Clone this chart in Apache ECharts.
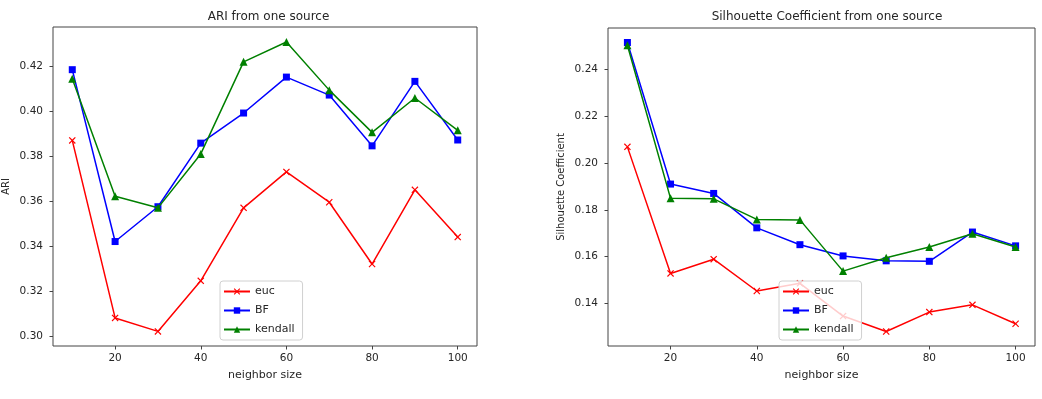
<!DOCTYPE html>
<html>
<head>
<meta charset="utf-8">
<script src="https://cdn.jsdelivr.net/npm/echarts@6/dist/echarts.min.js"></script>
<style>
html,body{margin:0;padding:0;background:#fff;}
#c{width:1042px;height:399px;}
</style>
</head>
<body>
<div id="c"></div>
<script>
// ---- data ----
const neighborSizes = [10, 20, 30, 40, 50, 60, 70, 80, 90, 100];
const seriesNames = ['euc', 'BF', 'kendall'];

const ariEuc     = [0.387, 0.308, 0.302, 0.3245, 0.357, 0.373, 0.3595, 0.332, 0.365, 0.344];
const ariBF      = [0.4185, 0.342, 0.3575, 0.3858, 0.3992, 0.4152, 0.4072, 0.3846, 0.4133, 0.3872];
const ariKendall = [0.4145, 0.3622, 0.357, 0.381, 0.422, 0.4308, 0.4094, 0.3906, 0.4059, 0.3915];

const silEuc     = [0.2069, 0.1528, 0.1589, 0.1453, 0.1486, 0.1346, 0.128, 0.1363, 0.1394, 0.1313];
const silBF      = [0.2515, 0.191, 0.187, 0.1723, 0.1651, 0.1603, 0.1582, 0.158, 0.1705, 0.1646];
const silKendall = [0.2503, 0.1849, 0.1847, 0.1759, 0.1757, 0.1538, 0.1595, 0.1641, 0.1698, 0.1641];

const xTicks = [20, 40, 60, 80, 100];
const ariTicks = [0.30, 0.32, 0.34, 0.36, 0.38, 0.40, 0.42];
const silTicks = [0.14, 0.16, 0.18, 0.20, 0.22, 0.24];

const titles = ['ARI from one source', 'Silhouette Coefficient from one source'];
const yNames = ['ARI', 'Silhouette Coefficient'];
const xName = 'neighbor size';

// ---- styles ----
const FONT = 'DejaVu Sans';
const TXT = '#262626';
const colors = { euc: '#ff0000', BF: '#0000ff', kendall: '#008000' };
const symbols = {
  euc: 'path://M0,1.2L1.2,0L5,3.8L8.8,0L10,1.2L6.2,5L10,8.8L8.8,10L5,6.2L1.2,10L0,8.8L3.8,5Z',
  BF: 'rect',
  kendall: 'triangle'
};

function pairs(vals) { return neighborSizes.map((x, i) => [x, vals[i]]); }

function mkSeries(name, vals, idx) {
  return {
    name: name,
    type: 'line',
    xAxisIndex: idx, yAxisIndex: idx,
    data: pairs(vals),
    symbol: symbols[name],
    symbolSize: name === 'kendall' ? 8 : 7,
    showAllSymbol: true,
    lineStyle: { color: colors[name], width: 1.5 },
    itemStyle: { color: colors[name] },
    emphasis: { disabled: true },
    animation: false,
    z: name === 'euc' ? 2 : (name === 'BF' ? 3 : 4)
  };
}

function mkX(idx) {
  return {
    type: 'value', gridIndex: idx, min: 5.5, max: 104.5,
    name: xName, nameLocation: 'middle', nameGap: 24,
    nameTextStyle: { fontFamily: FONT, fontSize: 11, color: TXT },
    axisLine: { show: false },
    splitLine: { show: false },
    axisTick: { show: true, length: 3.5, customValues: xTicks, lineStyle: { color: '#444' } },
    axisLabel: { customValues: xTicks, margin: 7, fontFamily: FONT, fontSize: 10.5, color: TXT }
  };
}

function mkY(idx, min, max, ticks) {
  return {
    type: 'value', gridIndex: idx, min: min, max: max,
    name: yNames[idx], nameLocation: 'middle', nameGap: idx === 0 ? 42 : 42,
    nameTextStyle: { fontFamily: FONT, fontSize: 10, color: TXT },
    axisLine: { show: false },
    splitLine: { show: false },
    axisTick: { show: true, length: 3.5, customValues: ticks, lineStyle: { color: '#444' } },
    axisLabel: { customValues: ticks, margin: 10, fontFamily: FONT, fontSize: 10.5, color: TXT,
      formatter: v => v.toFixed(2) }
  };
}

function mkLegend(left) {
  return {
    data: seriesNames,
    orient: 'vertical',
    left: left, top: 281,
    itemWidth: 26, itemHeight: 8, itemGap: 8,
    padding: [5, 8, 5, 3],
    borderColor: '#d0d0d0', borderWidth: 1, borderRadius: 3,
    backgroundColor: 'rgba(255,255,255,0.8)',
    textStyle: { fontFamily: FONT, fontSize: 11, color: TXT },
    selectedMode: false
  };
}

const chart = echarts.init(document.getElementById('c'), null, { renderer: 'canvas' });
chart.setOption({
  animation: false,
  backgroundColor: '#fff',
  title: [
    { text: titles[0], left: 263.5, top: 6, textAlign: 'center',
      textStyle: { fontFamily: FONT, fontSize: 12, fontWeight: 'normal', color: TXT } },
    { text: titles[1], left: 822, top: 6, textAlign: 'center',
      textStyle: { fontFamily: FONT, fontSize: 12, fontWeight: 'normal', color: TXT } }
  ],
  grid: [
    { left: 50, right: 565, top: 27, bottom: 53, show: true, borderColor: '#444', borderWidth: 1, backgroundColor: 'transparent' },
    { left: 608, right: 7, top: 28, bottom: 53, show: true, borderColor: '#444', borderWidth: 1, backgroundColor: 'transparent' }
  ],
  xAxis: [mkX(0), mkX(1)],
  yAxis: [mkY(0, 0.2955, 0.4375, ariTicks), mkY(1, 0.1218, 0.2577, silTicks)],
  legend: [mkLegend(220), mkLegend(779)],
  series: [
    mkSeries('euc', ariEuc, 0),
    mkSeries('BF', ariBF, 0),
    mkSeries('kendall', ariKendall, 0),
    mkSeries('euc', silEuc, 1),
    mkSeries('BF', silBF, 1),
    mkSeries('kendall', silKendall, 1)
  ]
});
</script>
</body>
</html>
